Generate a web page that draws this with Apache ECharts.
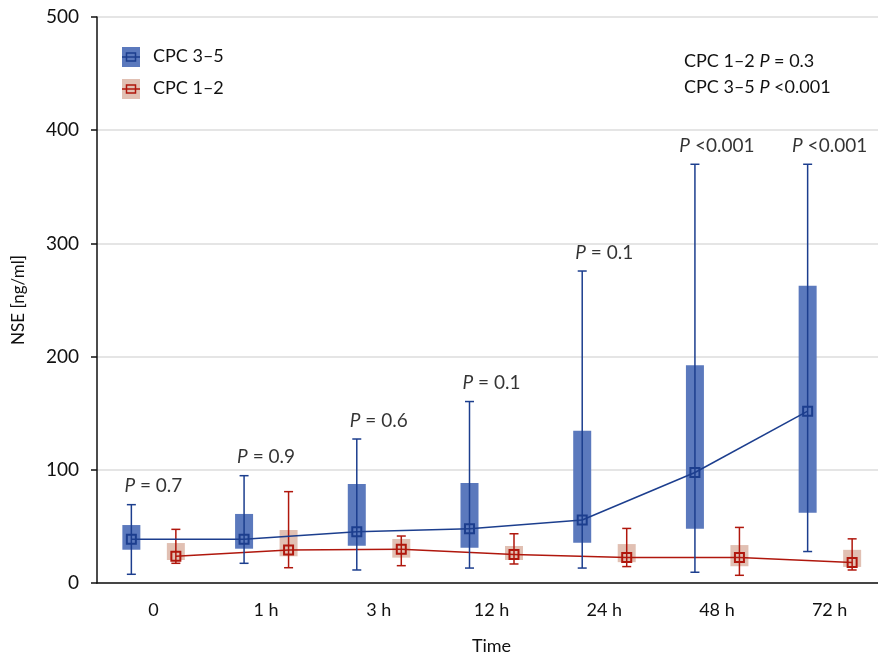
<!DOCTYPE html>
<html><head><meta charset="utf-8">
<script src="https://cdn.jsdelivr.net/npm/echarts@6/dist/echarts.min.js"></script>
<style>html,body{margin:0;padding:0;background:#fff}#c{width:878px;height:659px}</style>
</head><body><div id="c"></div>
<script>
const categories = ['0', '1 h', '3 h', '12 h', '24 h', '48 h', '72 h'];
const cpc35Min    = [7.7, 17.4, 11.5, 13.2, 13.2, 9.5, 27.8];
const cpc35Q1     = [29.4, 30.3, 33, 31.1, 35.5, 48, 62.1];
const cpc35Median = [38.6, 38.6, 45.3, 48, 55.6, 97.6, 151.8];
const cpc35Q3     = [51.2, 61, 87.5, 88.4, 134.6, 192.3, 262.6];
const cpc35Max    = [69.2, 94.8, 127.2, 160.3, 275.6, 369.9, 369.9];
const cpc12Min    = [17.4, 13.5, 15.3, 16.8, 14.5, 6.8, 11.5];
const cpc12Q1     = [20.3, 23.6, 22.4, 20.3, 18.4, 14.8, 14.2];
const cpc12Median = [23.6, 29.2, 29.8, 25.2, 22.5, 22.5, 18];
const cpc12Q3     = [35.3, 46.8, 38.9, 32.7, 34.4, 33.5, 29.3];
const cpc12Max    = [47.4, 80.7, 41.5, 43.5, 48.2, 49.1, 39];
const pLabels     = ['= 0.7', '= 0.9', '= 0.6', '= 0.1', '= 0.1', '<0.001', '<0.001'];
const yTicks      = [0, 100, 200, 300, 400, 500];

const FONT = 'Lato';
const chart = echarts.init(document.getElementById('c'), null, {renderer: 'canvas'});

function makeRender(mins, q1s, meds, q3s, maxs, offset, fill, stroke) {
  return function (params, api) {
    const i = api.value(0);
    const pt = v => { const c = api.coord([i, v]); return [c[0] + offset, c[1]]; };
    const pMin = pt(mins[i]), pQ1 = pt(q1s[i]), pMed = pt(meds[i]), pQ3 = pt(q3s[i]), pMax = pt(maxs[i]);
    const x = pMed[0];
    const children = [
      {type: 'rect', shape: {x: x - 9, y: pQ3[1], width: 18, height: pQ1[1] - pQ3[1]}, style: {fill: fill}},
      {type: 'line', shape: {x1: x, y1: pMax[1], x2: x, y2: pMin[1]}, style: {stroke: stroke, lineWidth: 1.5}},
      {type: 'line', shape: {x1: x - 4.5, y1: pMax[1], x2: x + 4.5, y2: pMax[1]}, style: {stroke: stroke, lineWidth: 1.5}},
      {type: 'line', shape: {x1: x - 4.5, y1: pMin[1], x2: x + 4.5, y2: pMin[1]}, style: {stroke: stroke, lineWidth: 1.5}}
    ];
    if (i > 0) {
      const c0 = api.coord([i - 1, meds[i - 1]]);
      children.push({type: 'line', shape: {x1: c0[0] + offset, y1: c0[1], x2: x, y2: pMed[1]}, style: {stroke: stroke, lineWidth: 1.5}});
    }
    children.push({type: 'rect', shape: {x: x - 4.5, y: pMed[1] - 4.5, width: 9, height: 9}, style: {fill: 'none', stroke: stroke, lineWidth: 2}});
    return {type: 'group', children: children};
  };
}

const idx = categories.map((c, i) => [i]);

chart.setOption({
  animation: false,
  textStyle: {fontFamily: FONT},
  grid: {left: 97, right: -8, top: 17, bottom: 76, outerBoundsMode: 'none', containLabel: false},
  xAxis: {
    type: 'category', data: categories, boundaryGap: true,
    axisLine: {lineStyle: {color: '#111', width: 1.5}},
    axisTick: {alignWithLabel: true, length: 6, lineStyle: {color: '#111', width: 1.5}},
    axisLabel: {color: '#111', fontSize: 18, margin: 18, fontFamily: FONT},
    name: 'Time', nameLocation: 'middle', nameGap: 54,
    nameTextStyle: {color: '#111', fontSize: 18, fontFamily: FONT}
  },
  yAxis: {
    type: 'value', min: yTicks[0], max: yTicks[yTicks.length - 1], interval: 100,
    axisLine: {show: true, lineStyle: {color: '#111', width: 1.5}},
    axisTick: {show: true, length: 6, lineStyle: {color: '#111', width: 1.5}},
    axisLabel: {color: '#111', fontSize: 19, margin: 18, fontFamily: FONT},
    splitLine: {lineStyle: {color: '#dcdcdc', width: 1.5}},
    name: 'NSE [ng/ml]', nameLocation: 'middle', nameGap: 70,
    nameTextStyle: {color: '#111', fontSize: 17, fontFamily: FONT}
  },
  series: [
    {
      type: 'custom', name: 'CPC 1–2', data: idx, z: 2,
      renderItem: makeRender(cpc12Min, cpc12Q1, cpc12Median, cpc12Q3, cpc12Max, 22.5, 'rgba(205,150,128,0.6)', '#b0170d')
    },
    {
      type: 'custom', name: 'CPC 3–5', data: idx, z: 3,
      renderItem: makeRender(cpc35Min, cpc35Q1, cpc35Median, cpc35Q3, cpc35Max, -22, '#5b79bd', '#1c3e8e')
    },
    {
      type: 'scatter', data: categories.map((c, i) => [i, cpc35Max[i]]), symbolSize: 0, z: 4,
      label: {
        show: true, position: 'top', distance: 9, color: '#000', fontSize: 19, fontFamily: FONT,
        formatter: p => '{i|P} ' + pLabels[p.dataIndex],
        rich: {i: {fontStyle: 'italic', fontSize: 19, color: '#000', fontFamily: FONT}}
      }
    }
  ],
  graphic: [
    {type: 'rect', left: 122, top: 47, shape: {width: 18, height: 20}, style: {fill: '#5b79bd'}},
    {type: 'line', shape: {x1: 122, y1: 57, x2: 140, y2: 57}, style: {stroke: '#1c3e8e', lineWidth: 1.5}},
    {type: 'rect', shape: {x: 126.5, y: 53, width: 9, height: 8}, style: {fill: 'none', stroke: '#1c3e8e', lineWidth: 1.5}},
    {type: 'text', left: 153, top: 47, style: {text: 'CPC 3–5', fontSize: 18, fill: '#111', fontFamily: FONT}},
    {type: 'rect', left: 122, top: 79, shape: {width: 18, height: 20}, style: {fill: 'rgba(205,150,128,0.6)'}},
    {type: 'line', shape: {x1: 122, y1: 89, x2: 140, y2: 89}, style: {stroke: '#b0170d', lineWidth: 1.5}},
    {type: 'rect', shape: {x: 126.5, y: 85, width: 9, height: 8}, style: {fill: 'none', stroke: '#b0170d', lineWidth: 1.5}},
    {type: 'text', left: 153, top: 79, style: {text: 'CPC 1–2', fontSize: 18, fill: '#111', fontFamily: FONT}},
    {type: 'text', left: 684, top: 48, style: {
      text: 'CPC 1–2 {i|P} = 0.3\nCPC 3–5 {i|P} <0.001', fontSize: 18, lineHeight: 26, fill: '#111', fontFamily: FONT,
      rich: {i: {fontStyle: 'italic', fontSize: 18, fontFamily: FONT}}
    }}
  ]
});
</script></body></html>
